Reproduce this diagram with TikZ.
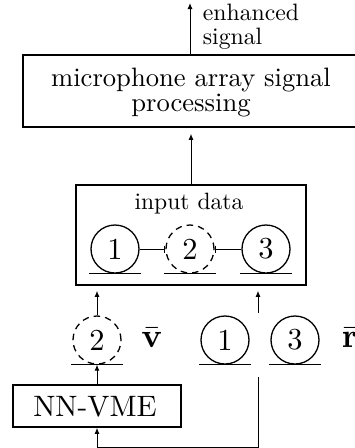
\documentclass[tikz,border=0pt]{standalone}
\usetikzlibrary{arrows.meta}
\newcommand\dig[1]{\scalebox{3.05}{#1}}
\begin{document}
\begin{tikzpicture}[x=1pt,y=-1pt,
  txt/.style={inner sep=0pt, font=\fontsize{10}{10}\selectfont},
  box/.style={draw, line width=1.6pt, inner sep=0pt},
  mic/.style={circle, draw, line width=1.3pt, minimum size=48pt, inner sep=0pt, font=\fontsize{10}{10}\selectfont},
  vmic/.style={mic, dash pattern=on 6.5pt off 5pt},
  arr/.style={-{Latex[length=6pt,width=5pt]}, line width=1pt},
  conn/.style={line width=1pt},
  ground/.style={line width=1.5pt}
]
\useasboundingbox (0,0) rectangle (355,448);

% top block
\node[box, minimum width=334pt, minimum height=72pt] (msp) at (190,91) {};
\node[txt, anchor=base] (msptxt) at (191,86.7) {\scalebox{2.66}{\fontsize{10}{9.4}\selectfont\begin{tabular}[t]{@{}c@{}}microphone array signal\\processing\end{tabular}}};
\coordinate (out) at (190,3);
\draw[arr] (msp.north) -- (out);
\node[txt, anchor=base west] (lbl) at (202.7,20.7) {\scalebox{2.37}{\fontsize{10}{10.25}\selectfont\begin{tabular}[t]{@{}l@{}}enhanced\\signal\end{tabular}}};

% input data block
\node[box, minimum width=230pt, minimum height=100pt] (inbox) at (191,235) {};
\node[txt] (indata) at (189,204) {\scalebox{2.36}{input data}};
\node[mic] (a1) at (115,249) {\dig{1}};
\node[vmic] (a2) at (190,249) {\dig{2}};
\node[mic] (a3) at (266,249) {\dig{3}};
\foreach \n in {a1,a2,a3}
  \draw[ground] ([xshift=-26pt]\n.south) -- ([xshift=26pt]\n.south);
\draw[conn, -{Bar[width=7pt]}] (a1) -- (a2);
\draw[conn, {Bar[width=7pt]}-] (a2) -- (a3);
\draw[arr, shorten >=6pt] (inbox.north) -- (inbox.north |- msp.south);

% bottom row
\node[vmic] (v2) at (97,340) {\dig{2}};
\node[txt] (vlab) at (152,338) {\scalebox{3.4}{$\bar{\mathbf{v}}$}};
\node[mic] (b1) at (225,340) {\dig{1}};
\node[mic] (b3) at (295,340) {\dig{3}};
\node[txt] (rlab) at (350,338) {\scalebox{3.4}{$\bar{\mathbf{r}}$}};
\foreach \n in {v2,b1,b3}
  \draw[ground] ([xshift=-26pt]\n.south) -- ([xshift=26pt]\n.south);

\draw[arr, shorten >=5pt] (v2.north) -- (v2.north |- inbox.south);
\coordinate (rin) at (258,313);
\draw[arr, shorten >=5pt] (rin) -- (rin |- inbox.south);

% NN-VME
\node[box, minimum width=168pt, minimum height=42pt] (nn) at (97,406) {};
\node[txt] (nntxt) at (95,406.5) {\scalebox{2.95}{NN-VME}};
\draw[arr] (nn.north) -- (nn.north |- v2.south);
\coordinate (rtop) at (258,377);
\coordinate (rbot) at (258,447);
\draw[arr] (rtop) -- (rbot) -| (nn.south);
\end{tikzpicture}
\end{document}
